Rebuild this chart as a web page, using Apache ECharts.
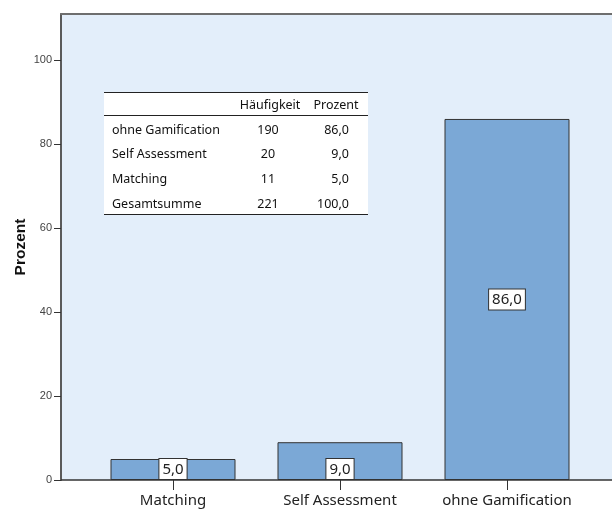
<!DOCTYPE html>
<html><head><meta charset="utf-8">
<script src="https://cdn.jsdelivr.net/npm/echarts@6/dist/echarts.min.js"></script>
<style>html,body{margin:0;padding:0;background:#fff}#c{width:612px;height:513px}</style>
</head><body><div id="c"></div>
<script>
const categories = ['Matching', 'Self Assessment', 'ohne Gamification'];
const percentValues = [5.0, 9.0, 86.0];
const yTicks = [0, 20, 40, 60, 80, 100];
const tableHeader = ['Häufigkeit', 'Prozent'];
const tableRowLabels = ['ohne Gamification', 'Self Assessment', 'Matching', 'Gesamtsumme'];
const tableFreq = [190, 20, 11, 221];
const tablePct = [86.0, 9.0, 5.0, 100.0];

const fmt = v => v.toFixed(1).replace('.', ',');
const FONT = 'Noto Sans';

const chart = echarts.init(document.getElementById('c'));

const tableEls = [];
const tx0 = 104, tx1 = 368;
const TF = '12.5px ' + FONT;
tableEls.push({type:'rect', shape:{x:tx0, y:92, width:tx1-tx0, height:123}, style:{fill:'#fff'}});
[92.5, 115.5, 214.5].forEach(y => tableEls.push({type:'line', shape:{x1:tx0, y1:y, x2:tx1, y2:y}, style:{stroke:'#222', lineWidth:1}}));
tableEls.push({type:'text', x:270, y:105, style:{text:tableHeader[0], font:TF, fill:'#111', align:'center', verticalAlign:'middle'}});
tableEls.push({type:'text', x:336, y:105, style:{text:tableHeader[1], font:TF, fill:'#111', align:'center', verticalAlign:'middle'}});
tableRowLabels.forEach((lab, i) => {
  const y = 130 + i * 24.7;
  tableEls.push({type:'text', x:112, y:y, style:{text:lab, font:TF, fill:'#111', align:'left', verticalAlign:'middle'}});
  tableEls.push({type:'text', x:268, y:y, style:{text:String(tableFreq[i]), font:TF, fill:'#111', align:'center', verticalAlign:'middle'}});
  tableEls.push({type:'text', x:349, y:y, style:{text:fmt(tablePct[i]), font:TF, fill:'#111', align:'right', verticalAlign:'middle'}});
});

chart.setOption({
  animation: false,
  grid: [
    {left: 61, right: -40, top: 14, bottom: 33, show: true, backgroundColor: '#E3EEFA', borderWidth: 0, outerBoundsMode: 'none', containLabel: false},
    {left: 89.5, right: 21.5, top: 14, bottom: 33, outerBoundsMode: 'none', containLabel: false}
  ],
  xAxis: [
    {gridIndex: 0, type: 'value', min: 0, max: 1, position: 'top',
     axisLine: {show: true, onZero: false, lineStyle: {color: '#6e6e6e', width: 2}},
     axisTick: {show: false}, axisLabel: {show: false}, splitLine: {show: false}},
    {gridIndex: 1, type: 'category', data: categories, position: 'bottom',
     axisLine: {show: false},
     axisTick: {show: true, alignWithLabel: true, length: 10, lineStyle: {color: '#333', width: 1}},
     axisLabel: {interval: 0, fontFamily: FONT, fontSize: 15, color: '#222', margin: 13}}
  ],
  yAxis: [
    {gridIndex: 0, type: 'value', min: 0, max: 111, interval: 20,
     axisLine: {show: true, lineStyle: {color: '#5a5a5a', width: 2}},
     axisTick: {show: true, inside: false, length: 7, customValues: yTicks, lineStyle: {color: '#333'}},
     axisLabel: {customValues: yTicks, fontFamily: 'Liberation Sans', fontSize: 11, color: '#444', margin: 9},
     splitLine: {show: false},
     name: 'Prozent', nameLocation: 'middle', nameGap: 32, nameRotate: 90, nameMoveOverlap: false,
     nameTextStyle: {fontFamily: 'Liberation Sans', fontWeight: 'bold', fontSize: 15.5, color: '#111'}},
    {gridIndex: 1, type: 'value', min: 0, max: 111, show: false}
  ],
  series: [
    {type: 'line', xAxisIndex: 0, yAxisIndex: 0, data: [], silent: true,
     markLine: {silent: true, symbol: 'none', label: {show: false},
       lineStyle: {color: '#333', width: 1.5, type: 'solid'}, data: [{yAxis: 0}]}},
    {type: 'bar', xAxisIndex: 1, yAxisIndex: 1, barWidth: 125,
     itemStyle: {color: '#7BA8D6', borderColor: '#333', borderWidth: 1},
     label: {show: true, position: 'inside', formatter: p => fmt(p.value),
       fontFamily: FONT, fontSize: 15, color: '#222', backgroundColor: '#fff',
       borderColor: '#333', borderWidth: 1, padding: [3, 3, 2, 3]},
     data: percentValues.map(v => v < 20 ? {value: v, label: {position: 'insideBottom', distance: 1}} : v)}
  ],
  graphic: tableEls
});
</script></body></html>
